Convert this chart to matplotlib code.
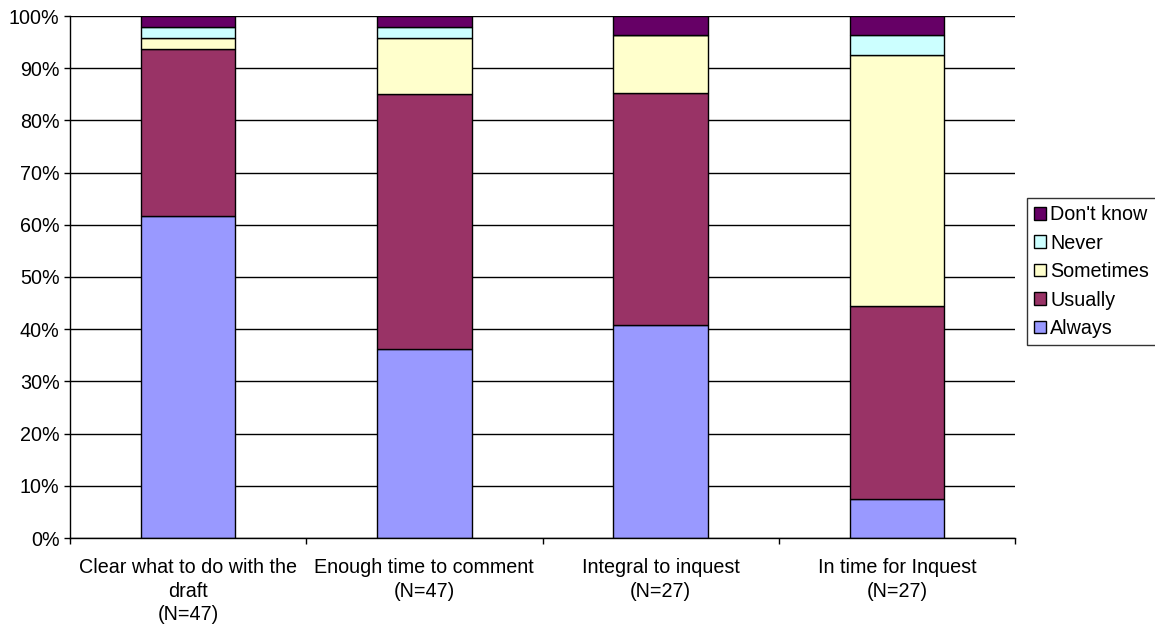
import numpy as np
import matplotlib.pyplot as plt
from matplotlib.patches import Patch

plt.rcParams['font.family'] = ['Liberation Sans', 'DejaVu Sans']

categories = ['Clear what to do with the\ndraft\n(N=47)',
              'Enough time to comment\n(N=47)',
              'Integral to inquest\n(N=27)',
              'In time for Inquest\n(N=27)']
responses = ['Always', 'Usually', 'Sometimes', 'Never', "Don't know"]
# response counts per question, in the same order as responses
always = [29, 17, 11, 2]
usually = [15, 23, 12, 10]
sometimes = [1, 5, 3, 13]
never = [1, 1, 0, 1]
dont_know = [1, 1, 1, 1]
colors = ['#9999FF', '#993366', '#FFFFCC', '#CCFFFF', '#660066']

counts = np.array([always, usually, sometimes, never, dont_know], dtype=float)
shares = counts / counts.sum(axis=0)

fs = 14.2

fig = plt.figure(figsize=(11.55, 6.25), dpi=100)
ax = fig.add_axes([70 / 1155, 1 - 538 / 625, 945 / 1155, 522 / 625])

x = np.arange(len(categories))
bottom = np.zeros(len(categories))
for share, col in zip(shares, colors):
    ax.bar(x, share, 0.4, bottom=bottom, color=col, edgecolor='black',
           linewidth=1, zorder=3)
    bottom += share

ax.set_xlim(-0.5, len(categories) - 0.5)
ax.set_ylim(0, 1)
ax.set_yticks(np.arange(0, 1.01, 0.1))
ax.set_yticklabels([f'{int(round(v * 100))}%' for v in np.arange(0, 1.01, 0.1)],
                   fontsize=fs)
ax.set_xticks(np.arange(-0.5, len(categories), 1.0))
ax.set_xticklabels([])
ax.set_xticks(x, minor=True)
ax.set_xticklabels(categories, minor=True, fontsize=fs, linespacing=1.3)
ax.tick_params(axis='x', which='minor', length=0, pad=14.5)
ax.tick_params(axis='x', which='major', direction='out', length=4, width=1)
ax.tick_params(axis='y', direction='out', length=4, width=1, pad=3.5)
ax.grid(axis='y', color='black', linewidth=1, zorder=0)
for side in ['top', 'right']:
    ax.spines[side].set_visible(False)
for side in ['left', 'bottom']:
    ax.spines[side].set_linewidth(1)
    ax.spines[side].set_zorder(4)

handles = [Patch(facecolor=c, edgecolor='black', linewidth=1, label=r)
           for r, c in zip(responses, colors)][::-1]
leg = fig.legend(handles=handles, loc='upper left',
                 bbox_to_anchor=(1027 / 1155, 1 - 198 / 625),
                 frameon=True, fancybox=False, edgecolor='black',
                 fontsize=fs, handlelength=0.62, handleheight=0.62,
                 handletextpad=0.2, labelspacing=0.48, borderpad=0.36,
                 borderaxespad=0)
leg.get_frame().set_linewidth(1)

fig.savefig('out.png', dpi=100)
